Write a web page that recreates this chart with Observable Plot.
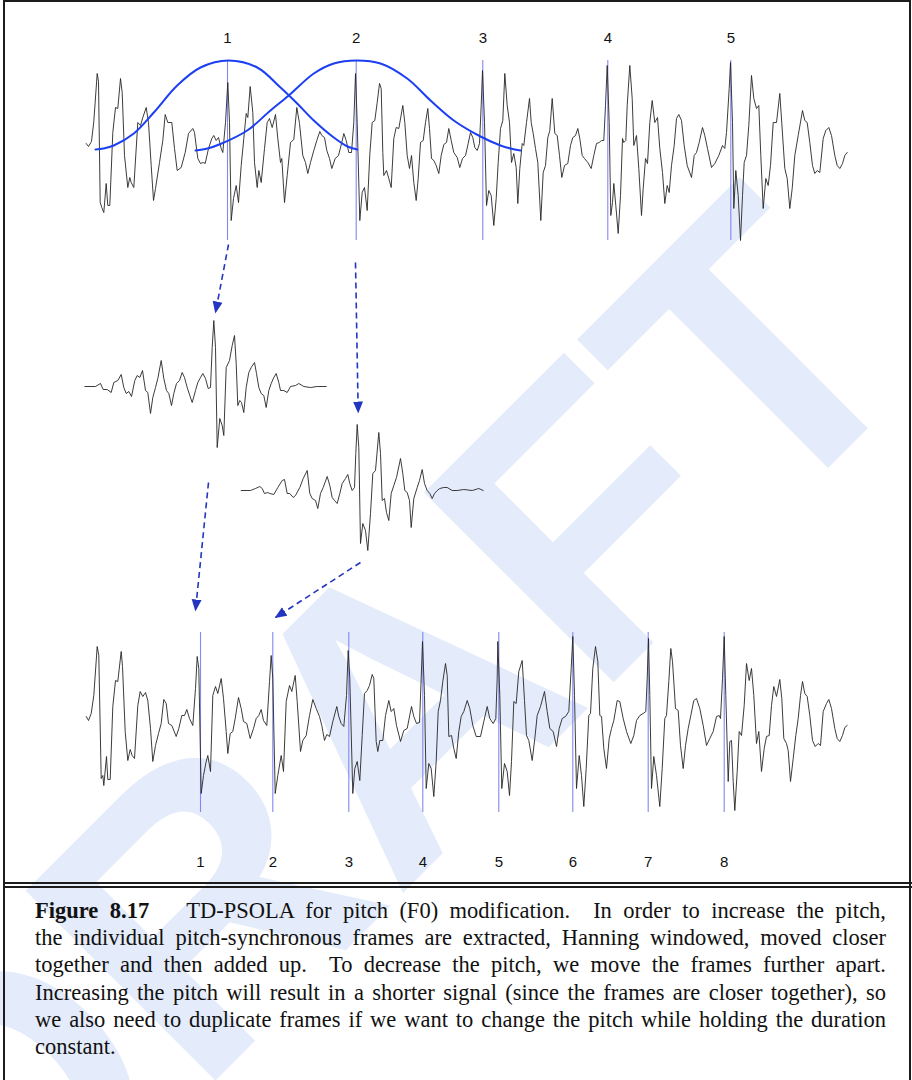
<!DOCTYPE html>
<html>
<head>
<meta charset="utf-8">
<script src="https://cdn.jsdelivr.net/npm/d3@7"></script>
<script src="https://cdn.jsdelivr.net/npm/@observablehq/plot@0.6"></script>
<style>
  html, body { margin: 0; padding: 0; background: #fff; }
  #page { position: relative; width: 912px; height: 1080px; overflow: hidden; }
  #wm { position: absolute; left: 0; top: 0; z-index: 0; }
  #chart { position: absolute; left: 0; top: 0; z-index: 1; }
  .rule { position: absolute; background: #1c1c1c; z-index: 2; }
  #caption { position: absolute; left: 35px; top: 897px; width: 851px; z-index: 2;
    font-family: "Liberation Serif", "Times New Roman", serif; font-size: 22.5px; line-height: 27.2px; color: #111; }
  #caption .ln { text-align: justify; text-align-last: justify; }
  #caption .ln.last { text-align: left; text-align-last: left; }
  #caption .gap { display: inline-block; width: 26px; }
</style>
</head>
<body>
<div id="page">
  <svg id="wm" width="912" height="1080">
    <text x="465" y="831" text-anchor="middle" transform="rotate(-45 465 831)"
      font-family="Liberation Sans, Arial, sans-serif" font-weight="bold" font-size="390" fill="#e4ebfa">DRAFT</text>
  </svg>
  <div id="chart"></div>
  <div class="rule" style="left:3px;top:0;width:1.5px;height:1080px"></div>
  <div class="rule" style="left:909px;top:0;width:1.5px;height:1080px"></div>
  <div class="rule" style="left:3px;top:0;width:908px;height:1.5px"></div>
  <div class="rule" style="left:3px;top:882px;width:909px;height:2px"></div>
  <div class="rule" style="left:3px;top:886px;width:909px;height:2px"></div>
  <div id="caption">
    <div class="ln"><b>Figure 8.17</b><span class="gap"></span> TD-PSOLA for pitch (F0) modification.&nbsp; In order to increase the pitch,</div>
    <div class="ln">the individual pitch-synchronous frames are extracted, Hanning windowed, moved closer</div>
    <div class="ln">together and then added up.&nbsp; To decrease the pitch, we move the frames further apart.</div>
    <div class="ln">Increasing the pitch will result in a shorter signal (since the frames are closer together), so</div>
    <div class="ln">we also need to duplicate frames if we want to change the pitch while holding the duration</div>
    <div class="ln last">constant.</div>
  </div>
</div>
<script>
// ---- data: time in samples, amplitude in arbitrary units ----
const originalWave = [[0.7,5],[3,2],[6,7],[8.3,27],[11.7,75],[13,67],[14.7,-54],[16.3,-59],[18.3,-64],[20.7,-35],[22.3,-57],[24.3,-57],[27.3,16],[30,41],[32.3,40],[35,70],[36.7,56],[39,-7],[42.3,-39],[44.3,-29],[45.7,-34],[48.3,-39],[52.3,26],[55,23],[57.3,31],[60.7,41],[63,26],[65.7,-17],[68,-52],[70,-40],[74,-14],[77.3,8],[79.7,34],[82.3,26],[86.3,26],[89,0],[91.7,-22],[95.7,-19],[99.7,-4],[103,15],[107.3,20],[109,16],[112.3,-10],[115,-15],[117.7,-14],[119.7,-15],[123,0],[126.3,10],[128.3,13],[130.7,8],[133,11],[135.7,0],[137.3,-4],[140,26],[142.3,66],[144,26],[145.7,-72],[148,-50],[150.7,-37],[153,-54],[155.7,-17],[158.3,10],[160.7,35],[162.3,31],[164.7,62],[167.3,36],[169,-14],[171.7,-39],[173.3,-22],[175.7,-34],[179,0],[181.7,26],[184,30],[186.7,21],[190,34],[192.3,10],[195,-14],[196.3,-10],[199,-54],[201.7,-27],[205,6],[208.3,9],[211.3,41],[214,25],[217.3,-7],[220,-14],[222.3,-25],[225,-14],[228.3,-2],[231.3,8],[234.3,17],[236.3,13],[239,11],[241.3,-2],[244,-10],[246.3,-20],[249.7,-10],[253,-7],[256.3,6],[258.3,15],[260.7,8],[263.3,-4],[266,-4],[268.3,26],[270,75],[271.7,26],[274.3,-72],[276.7,-44],[279,-39],[281.7,-62],[284.3,-6],[286.7,26],[289.3,28],[291.7,46],[294,65],[295.7,60],[297.3,-4],[298.3,-27],[301,-22],[303.3,-30],[305.7,-39],[308.3,10],[310.7,21],[313.3,20],[317.3,43],[319.3,26],[321.7,-7],[324,-20],[326,-7],[328.3,-34],[330.7,-52],[332.7,-30],[335,6],[337.7,8],[340,26],[342.3,40],[344,20],[346,-10],[348.3,-12],[350.7,-17],[353.3,-25],[355.7,-7],[358.3,4],[361,6],[363.3,20],[365.7,8],[368.3,-4],[371.7,-9],[374.3,-19],[377,-10],[380,-7],[382.7,5],[385,16],[387.3,11],[389.3,1],[391.7,-2],[394,5],[395.7,43],[397,78],[399,26],[401,-57],[403.3,-42],[405.7,-47],[408.3,-77],[410.7,-50],[412.7,-14],[415,20],[417.3,28],[419.3,75],[421.7,43],[424,26],[426,-14],[428.3,-5],[430.7,-19],[432.3,-55],[434.3,-20],[436.7,5],[438.3,3],[441,26],[444,50],[445.7,26],[447.7,15],[450,0],[452.3,-14],[455.3,-72],[457.7,-24],[460,-17],[462.3,11],[464.3,18],[466.7,50],[469.3,15],[471.7,13],[474,-7],[476.3,-29],[479,-17],[482.3,-15],[485,3],[487.3,11],[490,13],[492.3,20],[494.3,10],[496.7,-7],[499,-10],[502.3,-14],[505.7,-20],[508.3,-7],[511,5],[513.7,6],[516,8],[518.3,8],[520,43],[521.7,83],[523.7,26],[525.3,-67],[527,-54],[528.3,-35],[530.3,-57],[532.7,-85],[535,-47],[537,10],[538.3,6],[540.3,8],[541.7,43],[544.3,83],[546.7,50],[548.3,3],[551,13],[553.3,-20],[556,-67],[557.7,-40],[560,-10],[562,-15],[564.3,26],[566.7,48],[569.3,26],[572,31],[574.3,0],[577,-24],[579.3,-55],[581.7,-37],[583.7,-44],[586,-17],[588.7,3],[591,30],[593.3,34],[596,28],[598.7,3],[601.7,-17],[606,-29],[608.7,-7],[611,-4],[613.7,6],[617,21],[619.3,13],[622,0],[626,-19],[629.3,-15],[633.3,-7],[637,3],[639.3,0],[641,16],[643.7,60],[645,86],[647,26],[648.3,-60],[650.3,-22],[652.7,-47],[655,-92],[657,-47],[658.7,-14],[661,-7],[663.3,23],[666,73],[668.3,50],[671,40],[673.3,43],[675.3,-7],[677.7,-60],[680.3,-30],[682.7,-37],[685,-17],[687.7,26],[691,26],[694.3,55],[696.3,25],[699.3,-20],[701.7,-30],[704.3,-60],[706.7,-40],[709.3,-7],[712.7,13],[717,38],[719.3,28],[721.7,26],[724.3,6],[727,-17],[729.3,-25],[731.7,-22],[734.3,-24],[737.7,10],[740.3,18],[743.3,21],[746,13],[749.3,-7],[751.7,-17],[754.3,-20],[757,-15],[759.3,-7],[761.7,-4]];

const frame1Wave = [[-0.7,0],[10,0],[15,3],[17.7,-3],[21.7,-3],[25.7,-6],[28.3,4],[32.3,6],[35.7,12],[38.3,-1],[40.7,-7],[43.3,-5],[46,-10],[49.3,6],[51.7,11],[54.3,9],[57,16],[60,-4],[62.3,-6],[65,-27],[67.3,-11],[70,-1],[72.3,8],[75.7,26],[78.3,8],[81,-4],[83.3,-7],[86,-19],[88.3,-7],[91,3],[94,6],[96.7,14],[99,9],[101.7,-1],[104.3,-9],[106.7,-16],[110,-4],[112.3,4],[115,9],[117.3,13],[120,8],[122.7,-2],[125,-1],[126.7,39],[128.3,66],[130,39],[131.7,-61],[134.3,-32],[136.7,-39],[138.3,-49],[140.7,19],[144,26],[146.7,41],[149,51],[150.7,23],[152.3,-19],[154.3,-14],[156,-16],[158.3,-26],[160.7,-1],[163.3,14],[165.7,19],[169,24],[171,13],[173.3,-1],[175.7,-7],[178.3,-9],[180.7,-21],[183.3,-4],[185.7,3],[188.3,9],[190.7,13],[193.3,4],[195,-4],[198.3,-4],[201.7,-6],[205,0],[210,1],[213.3,3],[218.3,0],[225,-1],[231.7,0],[240.7,0]];

const frame2Wave = [[155.7,0],[165,0],[170,2],[174.3,4],[176.7,2],[179,-3],[182.3,-2],[184.3,-3],[188.3,-4],[192.3,3],[196.7,10],[199,11],[201.7,-3],[204.3,-3],[207.7,-7],[210,-5],[214.3,3],[217.7,12],[221.7,20],[224.3,-3],[226.7,-8],[230,-10],[232.3,-18],[235,-3],[237.7,3],[241.7,14],[244.3,5],[246.7,-7],[249,-10],[251.7,-13],[254.3,-3],[256.7,7],[260,12],[262.3,16],[264.3,7],[266.7,0],[269,3],[270.3,37],[271.7,66],[273.3,43],[275,-53],[277.3,-33],[280,-40],[282.3,-60],[285,-23],[287.3,17],[290,20],[293.3,58],[295,37],[296.7,-10],[299,-8],[301,-22],[303.3,-30],[305.7,-3],[308.3,5],[311,13],[315,32],[317.3,17],[319.3,0],[321.7,-2],[324,-10],[325.7,-37],[328.3,-8],[331.7,3],[334,10],[336.7,21],[339,7],[341.7,0],[344.3,-3],[346.7,-8],[349,-3],[351.7,0],[354.3,2],[358.3,3],[361.7,3],[366.7,0],[371.7,0],[378.3,1],[386.7,0],[393.3,2],[397.7,0]];

const modifiedWave = [[0.7,6],[3,2],[5.7,9],[8.3,27],[11.7,76],[13.3,67],[15.7,-56],[17.3,-53],[18.3,-63],[21,-34],[22.3,-57],[24.7,-57],[27.3,16],[30,42],[32.3,41],[35.7,71],[37,56],[39.7,-9],[42.3,-38],[44.7,-27],[46.7,-33],[49,-36],[52.3,17],[54.7,31],[57.3,26],[60,30],[62.3,22],[65,-6],[67.3,-39],[70,-23],[73,-11],[75.7,-1],[78.3,23],[80.7,19],[83,-1],[86.3,-3],[90.7,-14],[93.3,-6],[96.3,7],[99,7],[101.3,13],[104,4],[107.3,-3],[110,34],[111.7,66],[113.3,54],[115.7,-71],[118,-53],[120.7,-39],[122.3,-33],[125,-49],[127.3,27],[130,36],[132.3,29],[135.7,44],[138,24],[140.7,-9],[142.3,-31],[144.7,-11],[147.3,-9],[149.7,4],[153,25],[155.7,14],[158,1],[161.3,-1],[164.7,-16],[168,-6],[170.7,4],[173.3,7],[175.7,13],[178,2],[181.3,-3],[184,41],[185.7,67],[187.3,44],[189.7,-71],[192.3,-53],[195.7,-33],[198,-49],[200.7,21],[204,37],[206.3,31],[209.7,47],[211.7,21],[215,-29],[217.3,-18],[220.7,-13],[224,7],[227.3,23],[230.7,14],[234,6],[236.3,-3],[239,-18],[241.3,-12],[244,-14],[247.3,1],[251.3,16],[253.3,6],[255.7,-1],[258.3,-4],[261,27],[262.7,72],[264.3,44],[267.3,-71],[269.3,-46],[271.7,-39],[274.3,-58],[276.7,-13],[279,29],[281.7,32],[284,37],[286.7,48],[288.3,44],[290.7,-19],[292.3,-29],[294.3,-18],[297.3,-18],[300,7],[303.3,22],[305.7,11],[308.3,14],[311,-3],[315,-19],[318.3,-8],[321.7,-6],[326,16],[328.3,6],[331,-1],[334,0],[335.7,44],[337,81],[339,27],[340.7,-66],[343.3,-41],[345.7,-46],[348.3,-74],[350.7,-39],[352.7,11],[355,22],[357.3,41],[360,59],[361.7,47],[363.3,-14],[366,-13],[368.3,-26],[370.7,-36],[373.3,-9],[375.7,6],[378.3,11],[381.7,22],[384.3,14],[387.3,-3],[390.7,-14],[395,-14],[398.3,1],[401.7,16],[404.3,4],[407.7,-1],[410.3,4],[411.7,44],[412.3,81],[414.3,27],[416.3,-66],[419,-41],[421.7,-49],[424,-73],[426,-39],[428.3,21],[430.7,19],[433.3,51],[436.7,62],[439,22],[441,-13],[443.3,-18],[446.7,-38],[449.3,-16],[451.7,7],[455,16],[459,31],[461.7,11],[464.3,-6],[467.7,-9],[471,-24],[473.7,-6],[476.7,4],[480,6],[483.3,11],[485.7,54],[487.3,86],[489,27],[491,-66],[493.7,-33],[496,-53],[498.3,-84],[500.7,-46],[503.3,7],[505,9],[507.3,54],[510,76],[512.3,61],[514.3,7],[516,6],[518.3,-26],[521,-46],[523.7,-16],[526,-6],[528.3,2],[531.7,22],[534.3,21],[537.7,4],[541,-9],[545.3,-21],[548.3,-13],[551,2],[554.3,7],[557.7,9],[560.3,11],[561.7,44],[563,84],[564.3,27],[566,-66],[568.3,-34],[571,-53],[574.3,-84],[576.7,-46],[579.3,4],[581,7],[583.3,41],[585.3,74],[587,61],[590,14],[592.7,12],[595,-23],[597.7,-46],[600,-23],[602.7,-6],[605.3,7],[608.3,22],[611,24],[614.3,14],[617.7,-3],[621,-23],[624.3,-16],[627.7,-9],[631,6],[633.7,7],[635,4],[637,44],[638.7,86],[640.3,27],[642.7,-59],[644.3,-19],[646,-18],[647.7,-59],[649.3,-88],[651.7,-49],[653.7,-9],[656,-13],[658.7,17],[661,59],[663.7,42],[666,54],[668.3,27],[671,-21],[673.3,-9],[676,-49],[678.7,-26],[681,-14],[683.7,-13],[686,17],[688.3,36],[691,26],[694.3,43],[696.3,24],[698.3,-16],[701,-21],[702.7,-28],[705,-59],[707.7,-36],[710.3,-13],[712.7,4],[715,27],[717,41],[719.3,29],[721.7,26],[724.3,7],[727,-18],[729.7,-24],[732.7,-21],[735,-23],[737.7,11],[741,19],[743.3,23],[746,14],[749.3,-6],[751.7,-16],[754.3,-19],[757,-13],[759.3,-5],[761.7,-3]];

const window1 = [[10,-1],[18,0],[28.3,3],[48.3,15],[68.3,36],[91.7,63],[115,81],[143,88],[171.7,81],[195,61],[211.7,45],[228.3,28],[248.3,11],[262,2],[271.7,-1]];
const window2 = [[110,-2],[122,0],[135,4.5],[161.7,18],[185,38],[203.3,53],[228.3,75],[248.3,85],[271,88],[295,85],[321.7,70],[345,48],[368.3,28],[395,12],[415,3],[425,0],[435,-2]];

const originalMarks = [142, 270.7, 397.3, 522.3, 645.3];
const originalLabels = ["1", "2", "3", "4", "5"];
const modifiedMarks = [115, 187.3, 263.3, 337.3, 413.3, 487.3, 562.7, 638.7];
const modifiedLabels = ["1", "2", "3", "4", "5", "6", "7", "8"];

// arrows: [t1, level1, t2, level2]
const arrows = [[143, -96, 130, -164], [270, -114, 272.7, -264], [123, -334, 110, -462], [275, -414, 190, -469]];

// ---- layout constants (vertical track offsets) ----
const trackOriginal = 0, trackFrame1 = -238, trackFrame2 = -342, trackModified = -574;

const rows = (pts, level, id) => pts.map(([t, a]) => ({t, v: a + level, id}));
const waves = [
  ...rows(originalWave, trackOriginal, "orig"),
  ...rows(frame1Wave, trackFrame1, "f1"),
  ...rows(frame2Wave, trackFrame2, "f2"),
  ...rows(modifiedWave, trackModified, "mod")
];
const windows = [...rows(window1, trackOriginal, "w1"), ...rows(window2, trackOriginal, "w2")];
const arrowRows = arrows.map(([x1, y1, x2, y2]) => ({x1, y1, x2, y2}));

const NS = "http://www.w3.org/2000/svg";
function filledHead(color, context) {
  const doc = (context && context.document) || document;
  const m = doc.createElementNS(NS, "marker");
  m.setAttribute("viewBox", "0 -6 12 12");
  m.setAttribute("markerUnits", "userSpaceOnUse");
  m.setAttribute("markerWidth", "12");
  m.setAttribute("markerHeight", "12");
  m.setAttribute("refX", "11");
  m.setAttribute("refY", "0");
  m.setAttribute("orient", "auto");
  const p = doc.createElementNS(NS, "path");
  p.setAttribute("d", "M0,-5L12,0L0,5Z");
  p.setAttribute("fill", color);
  p.setAttribute("stroke", "none");
  m.appendChild(p);
  return m;
}

const markColor = "#8287f2";
const chart = Plot.plot({
  width: 912,
  height: 882,
  margin: 0,
  x: {domain: [-85, 827], axis: null},
  y: {domain: [-734, 148], axis: null},
  style: {background: "transparent", overflow: "visible"},
  marks: [
    Plot.ruleX(originalMarks, {x: d => d, y1: trackOriginal + 88, y2: trackOriginal - 92, stroke: markColor, strokeWidth: 1.1}),
    Plot.ruleX(modifiedMarks, {x: d => d, y1: trackModified + 90, y2: trackModified - 90, stroke: markColor, strokeWidth: 1.1}),
    Plot.line(waves, {x: "t", y: "v", z: "id", stroke: "#262626", strokeWidth: 0.9, strokeLinejoin: "round"}),
    Plot.line(windows, {x: "t", y: "v", z: "id", curve: "catmull-rom", stroke: "#1c3ff2", strokeWidth: 2}),
    Plot.link(arrowRows, {x1: "x1", y1: "y1", x2: "x2", y2: "y2", stroke: "#2236c2", strokeWidth: 1.6, strokeDasharray: "6,4", markerEnd: filledHead}),
    Plot.text(originalLabels, {x: (d, i) => originalMarks[i], y: trackOriginal + 110, text: d => d, fontSize: 15, fontFamily: "Liberation Sans, Arial, sans-serif", fill: "#111"}),
    Plot.text(modifiedLabels, {x: (d, i) => modifiedMarks[i], y: trackModified - 140, text: d => d, fontSize: 15, fontFamily: "Liberation Sans, Arial, sans-serif", fill: "#111"})
  ]
});
document.getElementById("chart").appendChild(chart);

// keep every caption line on a single line
const cap = document.getElementById("caption");
let fs = 22.5;
const tooTall = () => Array.from(cap.querySelectorAll(".ln")).some(el => el.getBoundingClientRect().height > 30);
while (tooTall() && fs > 16) { fs -= 0.25; cap.style.fontSize = fs + "px"; }
</script>
</body>
</html>
